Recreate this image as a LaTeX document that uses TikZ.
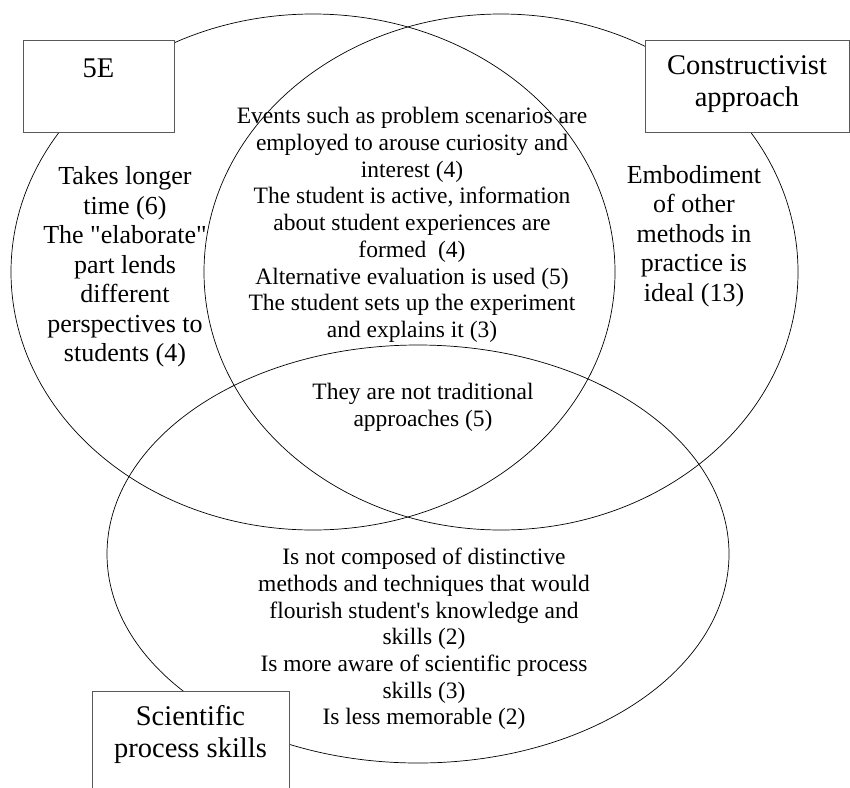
\documentclass[tikz,border=0pt]{standalone}
\usepackage{fontspec}
\setmainfont{Liberation Serif}
\usetikzlibrary{positioning,shapes.geometric}

\begin{document}
\begin{tikzpicture}[
        x=1pt, y=-1pt,
        venn/.style={ellipse,draw,line width=0.7pt,inner sep=0pt},
        namebox/.style={draw=black!65,line width=0.9pt,fill=white,inner sep=0pt},
        boxtext/.style={align=center,inner sep=0pt,font=\fontsize{28.5}{32}\selectfont},
        sidetext/.style={align=center,font=\fontsize{26}{29.5}\selectfont},
        midtext/.style={align=center,font=\fontsize{23.5}{26.7}\selectfont}
    ]
    \useasboundingbox (0,0) rectangle (850,787);
    \clip (0,0) rectangle (850,787);

    % the three sets
    \node (setE) [venn,minimum width=604pt,minimum height=516pt] at (313,272) {};
    \node (setC) [venn,minimum width=594pt,minimum height=516pt] at (501,272) {};
    \node (setS) [venn,minimum width=622pt,minimum height=418pt] at (418,554) {};

    % name boxes
    \node (boxE) [namebox,minimum width=151pt,minimum height=92pt]  at (98.5,86) {};
    \node (boxC) [namebox,minimum width=204pt,minimum height=92pt]  at (747,86)  {};
    \node (boxS) [namebox,minimum width=197pt,minimum height=140pt] at (190.5,761) {};
    \node (nameE) [boxtext,below=19pt of boxE.north] {5E};
    \node (nameC) [boxtext,below=16pt of boxC.north] {Constructivist\\approach};
    \node (nameS) [boxtext,below=15pt of boxS.north] {Scientific\\process skills};

    % region texts
    \node (onlyE) [sidetext] at (125,267) {Takes longer\\time (6)\\The \textquotedbl elaborate\textquotedbl\\part lends\\different\\perspectives to\\students (4)};
    \node (onlyC) [sidetext] at (694,236) {Embodiment\\of other\\methods in\\practice is\\ideal (13)};
    \node (EC)    [midtext]  at (412,225) {Events such as problem scenarios are\\employed to arouse curiosity and\\interest (4)\\The student is active, information\\about student experiences are\\formed~ (4)\\Alternative evaluation is used (5)\\The student sets up the experiment\\and explains it (3)};
    \node (ECS)   [midtext]  at (423,407) {They are not traditional\\approaches (5)};
    \node (onlyS) [midtext]  at (424,639) {Is not composed of distinctive\\methods and techniques that would\\flourish student\textquotesingle s knowledge and\\skills (2)\\Is more aware of scientific process\\skills (3)\\Is less memorable (2)};
\end{tikzpicture}
\end{document}
